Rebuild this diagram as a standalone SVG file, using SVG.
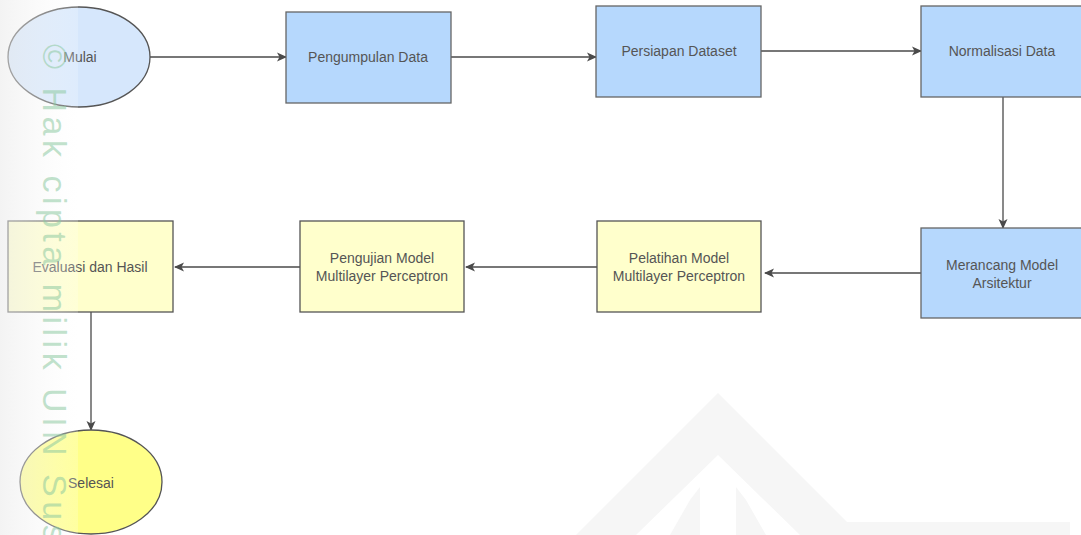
<svg xmlns="http://www.w3.org/2000/svg" width="1081" height="535" viewBox="0 0 1081 535">
  <defs>
    <marker id="arrow" viewBox="0 0 10 10" refX="9" refY="5" markerWidth="10" markerHeight="10" markerUnits="userSpaceOnUse" orient="auto">
      <path d="M0,0.5 L10,5 L0,9.5 L2.5,5 Z" fill="#4a4a4a"/>
    </marker>
    <linearGradient id="band" x1="0" y1="0" x2="1" y2="0">
      <stop offset="0" stop-color="#e9e9e9" stop-opacity="0.55"/>
      <stop offset="1" stop-color="#ffffff" stop-opacity="0.2"/>
    </linearGradient>
    <style>
      .lbl { font-family: "Liberation Sans", Arial, sans-serif; font-size: 14px; fill: #555555; text-anchor: middle; dominant-baseline: central; }
      .blue { fill: #b6d8fd; stroke: #666666; stroke-width: 1.3; }
      .yellow { fill: #ffffcc; stroke: #555555; stroke-width: 1.3; }
      .edge { fill: none; stroke: #4a4a4a; stroke-width: 1.3; marker-end: url(#arrow); }
      .wm { font-family: "Liberation Sans", Arial, sans-serif; font-size: 34px; letter-spacing: 4.5px; fill: #8cc9a0; fill-opacity: 0.55; }
    </style>
  </defs>

  <rect x="0" y="0" width="1081" height="535" fill="#ffffff"/>

  <!-- faint background logo -->
  <g id="bg-logo" fill="#f6f6f6">
    <polygon points="718,393 860,535 800,535 718,455 636,535 576,535"/>
    <polygon points="690,500 700,487 700,535 670,535"/>
    <polygon points="746,500 736,487 736,535 766,535"/>
    <rect x="800" y="522" width="270" height="13"/>
  </g>

  <g id="connectors">
    <line class="edge" x1="150" y1="57" x2="286" y2="57"/>
    <line class="edge" x1="451" y1="57" x2="596" y2="57"/>
    <line class="edge" x1="761" y1="51" x2="921" y2="51"/>
    <line class="edge" x1="1003" y1="97" x2="1003" y2="228"/>
    <line class="edge" x1="921" y1="273" x2="765" y2="273"/>
    <line class="edge" x1="597" y1="267" x2="466" y2="267"/>
    <line class="edge" x1="300" y1="267" x2="175" y2="267"/>
    <line class="edge" x1="91" y1="312" x2="91" y2="430"/>
  </g>

  <g id="mulai">
    <ellipse cx="79" cy="57" rx="71" ry="50" fill="#d6e7fc" stroke="#555555" stroke-width="1.3"/>
    <text class="lbl" x="80" y="57">Mulai</text>
  </g>

  <g id="pengumpulan">
    <rect class="blue" x="286" y="12" width="165" height="91"/>
    <text class="lbl" x="368" y="57">Pengumpulan Data</text>
  </g>

  <g id="persiapan">
    <rect class="blue" x="596" y="6" width="165" height="91"/>
    <text class="lbl" x="679" y="51">Persiapan Dataset</text>
  </g>

  <g id="normalisasi">
    <rect class="blue" x="921" y="6" width="162" height="91"/>
    <text class="lbl" x="1002" y="51">Normalisasi Data</text>
  </g>

  <g id="merancang">
    <rect class="blue" x="921" y="228" width="162" height="90"/>
    <text class="lbl" x="1002" y="265">Merancang Model</text>
    <text class="lbl" x="1002" y="283">Arsitektur</text>
  </g>

  <g id="pelatihan">
    <rect class="yellow" x="597" y="221" width="164" height="91"/>
    <text class="lbl" x="679" y="258">Pelatihan Model</text>
    <text class="lbl" x="679" y="276">Multilayer Perceptron</text>
  </g>

  <g id="pengujian">
    <rect class="yellow" x="300" y="221" width="164" height="91"/>
    <text class="lbl" x="382" y="258">Pengujian Model</text>
    <text class="lbl" x="382" y="276">Multilayer Perceptron</text>
  </g>

  <g id="evaluasi">
    <rect class="yellow" x="8" y="221" width="165" height="91"/>
    <text class="lbl" x="90" y="267">Evaluasi dan Hasil</text>
  </g>

  <g id="selesai">
    <ellipse cx="91" cy="482" rx="71" ry="52" fill="#ffff88" stroke="#555555" stroke-width="1.3"/>
    <text class="lbl" x="91" y="483">Selesai</text>
  </g>

  <!-- left watermark band and text -->
  <rect x="0" y="0" width="78" height="535" fill="url(#band)"/>
  <text class="wm" transform="translate(43,44) rotate(90)" x="0" y="0">© Hak cipta milik UIN Sus</text>
</svg>
